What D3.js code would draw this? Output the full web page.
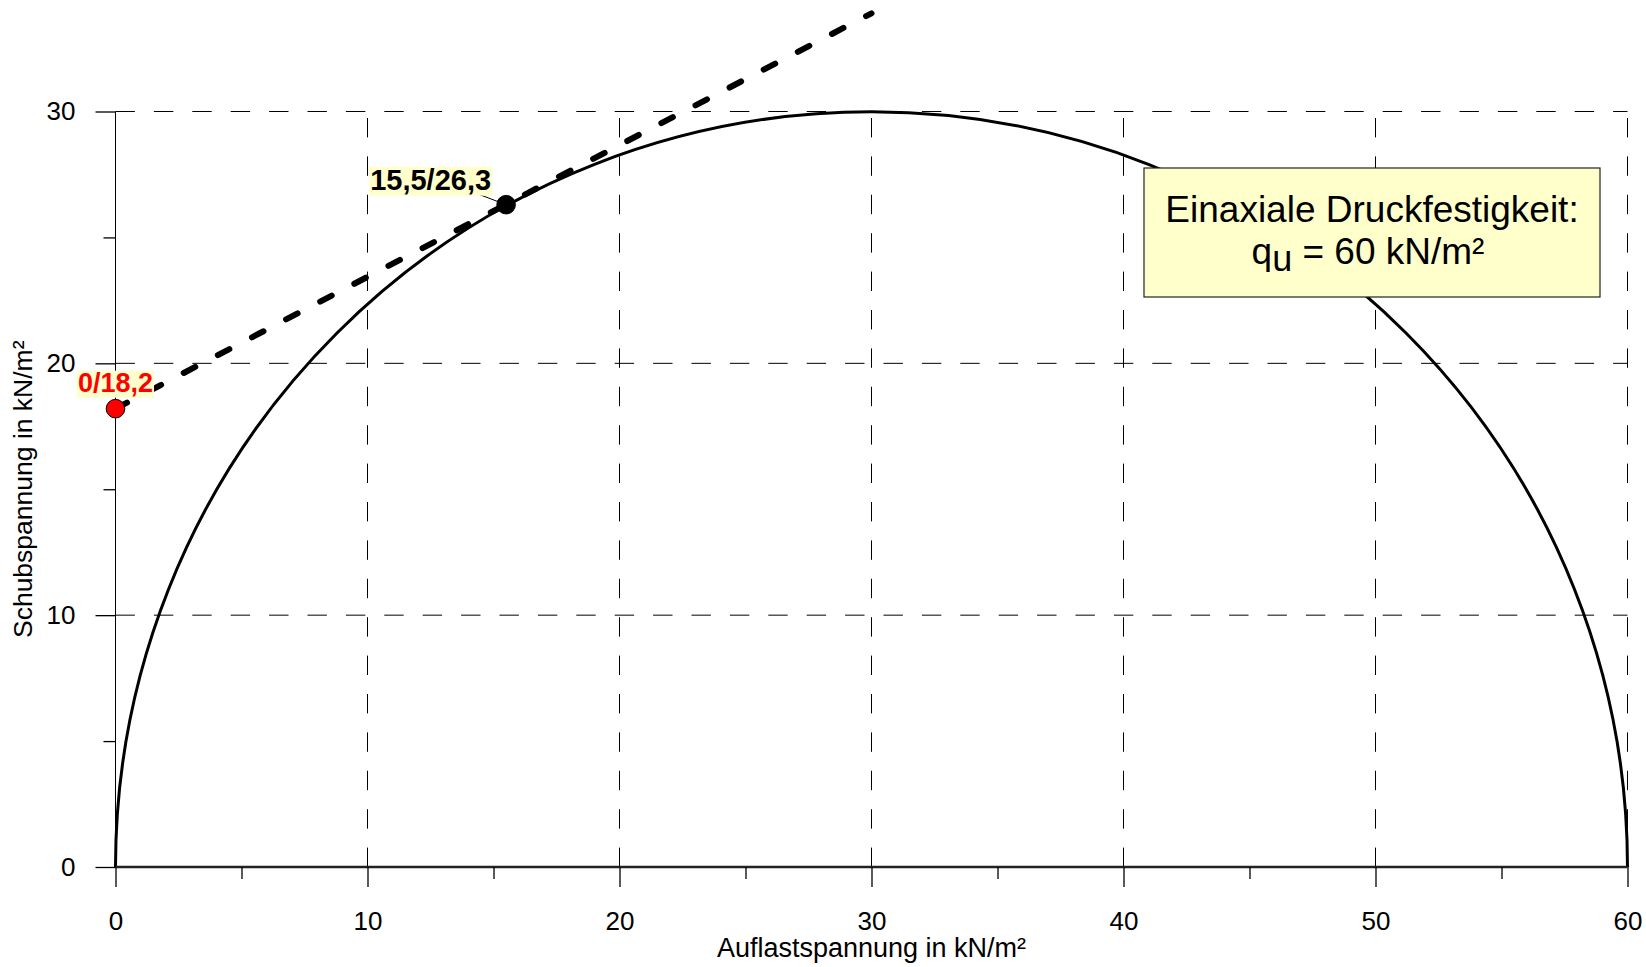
<!DOCTYPE html>
<html lang="de">
<head>
<meta charset="UTF-8">
<title>Mohrscher Kreis</title>
<script src="https://d3js.org/d3.v7.js"></script>
<style>
  body { margin: 0; background: #fff; }
  svg { display: block; font-family: "Liberation Sans", Arial, sans-serif; }
</style>
</head>
<body>
<svg id="chart" width="1646" height="967"></svg>
<script>
// --- data ---
const xTicks = [0, 10, 20, 30, 40, 50, 60];
const xMinor = [5, 15, 25, 35, 45, 55];
const yTicks = [0, 10, 20, 30];
const yMinor = [5, 15, 25];
const qu = 60;                              // einaxiale Druckfestigkeit
const circle = { cx: 30, r: 30 };           // Mohrscher Kreis
const linePts = [[0, 18.2], [30, 33.9]];    // gestrichelte Gerade
const points = [
  { x: 0, y: 18.2, label: "0/18,2", fill: "#ff0000", color: "#ff0000" },
  { x: 15.5, y: 26.3, label: "15,5/26,3", fill: "#000000", color: "#000000" }
];
const xTitle = "Auflastspannung in kN/m²";
const yTitle = "Schubspannung in kN/m²";

const svg = d3.select("#chart");

const x = d3.scaleLinear().domain([0, 60]).range([115.5, 1627.5]);
const y = d3.scaleLinear().domain([0, 30]).range([867, 111.5]);

// grid lines (dashed)
svg.append("g").selectAll("line")
  .data(yTicks.filter(d => d > 0))
  .join("line")
  .attr("x1", x(0)).attr("x2", x(60))
  .attr("y1", d => y(d)).attr("y2", d => y(d))
  .attr("stroke", "#000").attr("stroke-width", 1)
  .attr("stroke-dasharray", "19.4,19");

svg.append("g").selectAll("line")
  .data(xTicks.filter(d => d > 0))
  .join("line")
  .attr("x1", d => x(d)).attr("x2", d => x(d))
  .attr("y1", y(0)).attr("y2", y(30))
  .attr("stroke", "#000").attr("stroke-width", 1)
  .attr("stroke-dasharray", "19.4,19");

// semicircle through the scales
const rx = x(circle.cx + circle.r) - x(circle.cx);
const ry = y(0) - y(circle.r);
svg.append("path")
  .attr("d", `M${x(circle.cx - circle.r)},${y(0)} A${rx},${ry} 0 0 1 ${x(circle.cx + circle.r)},${y(0)}`)
  .attr("fill", "none")
  .attr("stroke", "#000")
  .attr("stroke-width", 3);

// axes
const xAxis = svg.append("g").attr("transform", `translate(0,${y(0)})`)
  .call(d3.axisBottom(x).tickValues(xTicks).tickSize(20).tickPadding(24).tickFormat(d3.format("d")));
svg.append("g").attr("transform", `translate(0,${y(0)})`)
  .call(d3.axisBottom(x).tickValues(xMinor).tickSize(12).tickFormat(""))
  .call(g => g.select(".domain").remove());
xAxis.select(".domain").attr("stroke-width", 2.5).attr("stroke", "#222")
  .attr("d", `M${x(0)},0H${x(60)}`);

const yAxis = svg.append("g").attr("transform", `translate(${x(0)},0)`)
  .call(d3.axisLeft(y).tickValues(yTicks).tickSize(20).tickPadding(20).tickFormat(d3.format("d")));
svg.append("g").attr("transform", `translate(${x(0)},0)`)
  .call(d3.axisLeft(y).tickValues(yMinor).tickSize(12).tickFormat(""))
  .call(g => g.select(".domain").remove());
yAxis.select(".domain").attr("d", `M0,${y(0)}V${y(30)}`);

svg.selectAll(".tick line").attr("stroke", "#000").attr("stroke-width", 1.3);
svg.selectAll(".tick text")
  .attr("font-family", "Liberation Sans, Arial, sans-serif")
  .attr("font-size", 26).attr("fill", "#000");
xAxis.selectAll(".tick text").attr("dy", "0.72em");

// axis titles
svg.append("text")
  .attr("x", (x(0) + x(60)) / 2).attr("y", 957)
  .attr("text-anchor", "middle").attr("font-size", 27)
  .text(xTitle);
svg.append("text")
  .attr("transform", `translate(32,${(y(0) + y(30)) / 2}) rotate(-90)`)
  .attr("text-anchor", "middle").attr("font-size", 26.5)
  .text(yTitle);

// dashed line
svg.append("path")
  .datum(linePts)
  .attr("d", d3.line().x(d => x(d[0])).y(d => y(d[1])))
  .attr("fill", "none")
  .attr("stroke", "#000")
  .attr("stroke-width", 6)
  .attr("stroke-linecap", "round")
  .attr("stroke-dasharray", "13,25.5");

// annotation box
const box = svg.append("g");
box.append("rect")
  .attr("x", 1144).attr("y", 168).attr("width", 456).attr("height", 129)
  .attr("fill", "#ffffcc").attr("stroke", "#222").attr("stroke-width", 1.2);
box.append("text")
  .attr("x", 1372).attr("y", 222).attr("text-anchor", "middle")
  .attr("font-size", 37)
  .text("Einaxiale Druckfestigkeit:");
const t2 = box.append("text")
  .attr("x", 1368).attr("y", 264).attr("text-anchor", "middle")
  .attr("font-size", 37);
t2.append("tspan").text("q");
t2.append("tspan").attr("dy", 7).attr("font-size", 36).text("u");
t2.append("tspan").attr("dy", -7).text(" = " + qu + " kN/m²");

// leader line for black point label
svg.append("line")
  .attr("x1", x(15.5) - 29).attr("y1", y(26.3) - 11)
  .attr("x2", x(15.5)).attr("y2", y(26.3))
  .attr("stroke", "#000").attr("stroke-width", 1);

// points
svg.append("g").selectAll("circle")
  .data(points)
  .join("circle")
  .attr("cx", d => x(d.x)).attr("cy", d => y(d.y))
  .attr("r", 9.3)
  .attr("fill", d => d.fill)
  .attr("stroke", "#000").attr("stroke-width", 1);

// point labels with light yellow background
const labelPos = [
  { dx: 0, dy: -17, anchor: "middle", size: 27 },
  { dx: -15, dy: -15, anchor: "end", size: 29 }
];
points.forEach((p, i) => {
  const g = svg.append("g");
  const lp = labelPos[i];
  const t = g.append("text")
    .attr("x", x(p.x) + lp.dx).attr("y", y(p.y) + lp.dy)
    .attr("text-anchor", lp.anchor)
    .attr("font-size", lp.size).attr("font-weight", "bold")
    .attr("fill", p.color)
    .text(p.label);
  const bb = t.node().getBBox();
  g.insert("rect", "text")
    .attr("x", bb.x - 1).attr("y", bb.y + 3)
    .attr("width", bb.width + 2).attr("height", bb.height - 3)
    .attr("fill", "#ffffcc");
});
</script>
</body>
</html>
